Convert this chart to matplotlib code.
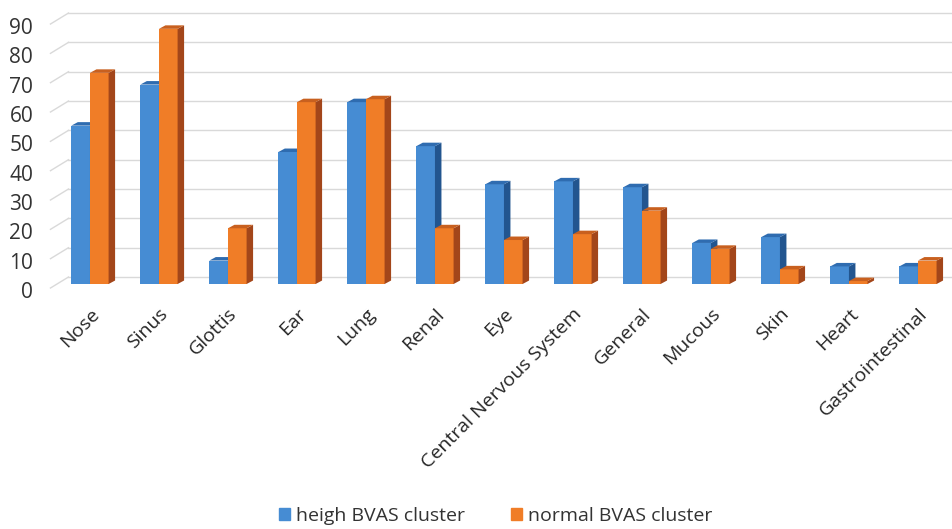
import matplotlib
matplotlib.use('Agg')
import matplotlib.pyplot as plt
from matplotlib.patches import Patch
from matplotlib.transforms import ScaledTranslation

plt.rcParams['font.family'] = ['Open Sans', 'DejaVu Sans']

categories = ['Nose', 'Sinus', 'Glottis', 'Ear', 'Lung', 'Renal', 'Eye',
              'Central Nervous System', 'General', 'Mucous', 'Skin', 'Heart',
              'Gastrointestinal']
high_bvas = [54, 68, 8, 45, 62, 47, 34, 35, 33, 14, 16, 6, 6]
normal_bvas = [72, 87, 19, 62, 63, 19, 15, 17, 25, 12, 5, 1, 8]
series_names = ['heigh BVAS cluster', 'normal BVAS cluster']
yticks = list(range(0, 100, 10))

# front, side, top colours per series
colors = [('#468cd3', '#22558f', '#2f6cb0'),
          ('#f07d27', '#a3461a', '#c8601f')]

fig = plt.figure(figsize=(9.53, 5.29), dpi=100)
ax = fig.add_axes([0.0582, 0.4631, 0.9412, 0.5212])
ax.set_xlim(-0.5, 12.5)
ax.set_ylim(0, 94)
for s in ax.spines.values():
    s.set_visible(False)

# back wall gridlines with slanted floor part
px = 94 / 276  # data units per pixel (y)
for v in yticks:
    back = ScaledTranslation(0, 7 / 100, fig.dpi_scale_trans)
    ax.plot([-0.5 + 13 / 69, 12.5], [v, v], color='#d9d9d9', lw=1,
            transform=ax.transData + back, zorder=0, clip_on=False)
    ax.plot([-0.5 - 5 / 69, -0.5 + 13 / 69], [v - 4 * px, v + 7 * px],
            color='#d9d9d9', lw=1, zorder=0, clip_on=False)

w = 0.27
ddx = 6.5 / 69
ddy = 3.5 * px
x = list(range(len(categories)))
for k, vals in enumerate([high_bvas, normal_bvas]):
    front, side, top = colors[k]
    xs = [i - w + k * w for i in x]
    ax.bar(xs, vals, width=w, align='edge', color=front, zorder=2 + k)
    for x0, v in zip(xs, vals):
        x1 = x0 + w
        ax.fill([x1, x1 + ddx, x1 + ddx, x1], [0, ddy, v + ddy, v],
                color=side, zorder=2 + k, lw=0)
        ax.fill([x0, x0 + ddx, x1 + ddx, x1], [v, v + ddy, v + ddy, v],
                color=top, zorder=2 + k, lw=0)

ax.set_yticks(yticks)
ax.set_yticklabels([str(v) for v in yticks], fontsize=15, color='#333333')
ax.tick_params(axis='y', length=0, pad=16)
for lab in ax.get_yticklabels():
    lab.set_transform(lab.get_transform() +
                      ScaledTranslation(0, -6 / 100, fig.dpi_scale_trans))

ax.set_xticks(x)
ax.set_xticklabels(categories, rotation=45, ha='right', va='top',
                   rotation_mode='anchor', fontsize=14, color='#262626')
ax.tick_params(axis='x', length=0, pad=15)

handles = [Patch(color=colors[0][0]), Patch(color=colors[1][0])]
fig.legend(handles, series_names, loc='lower center', ncol=2, frameon=False,
           bbox_to_anchor=(0.52, -0.025), fontsize=14, handlelength=0.55,
           handleheight=0.55, handletextpad=0.3, columnspacing=2.4,
           labelcolor='#333333')

fig.savefig('out.png', dpi=100)
